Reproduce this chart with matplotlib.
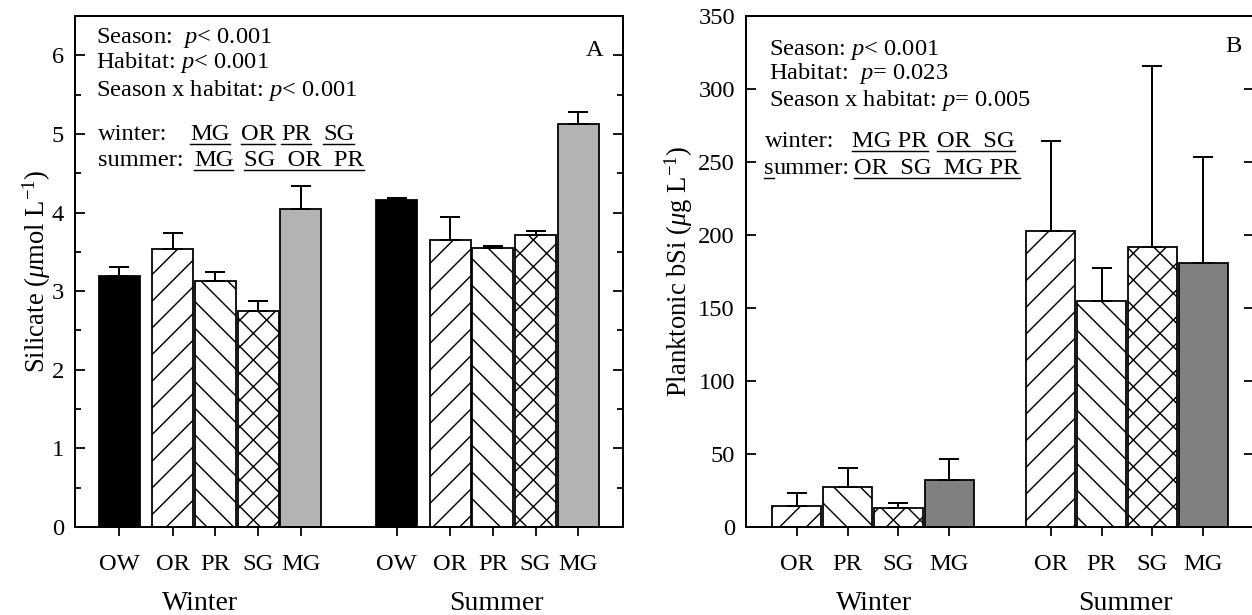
import matplotlib
matplotlib.use("Agg")
import matplotlib.pyplot as plt
import numpy as np
from matplotlib.lines import Line2D
from matplotlib.ticker import MultipleLocator

W, H, DPI = 1252, 615, 80

plt.rcParams['font.family'] = ['Liberation Serif', 'DejaVu Serif']
plt.rcParams['mathtext.fontset'] = 'custom'
plt.rcParams['mathtext.rm'] = 'Liberation Serif'
plt.rcParams['mathtext.it'] = 'Liberation Serif:italic'
plt.rcParams['hatch.linewidth'] = 1.3
plt.rcParams['font.size'] = 22

# silicate (panel A)
habitats_a = ['OW', 'OR', 'PR', 'SG', 'MG']
sil_winter = [3.19, 3.54, 3.13, 2.75, 4.05]
sil_winter_se = [0.12, 0.20, 0.12, 0.13, 0.29]
sil_summer = [4.16, 3.65, 3.55, 3.71, 5.12]
sil_summer_se = [0.03, 0.29, 0.03, 0.05, 0.16]

# planktonic bSi (panel B)
habitats_b = ['OR', 'PR', 'SG', 'MG']
bsi_winter = [14.4, 27.4, 13.3, 32.5]
bsi_winter_se = [9.2, 12.7, 3.2, 13.9]
bsi_summer = [203.0, 154.8, 192.0, 181.1]
bsi_summer_se = [61.5, 22.8, 124.0, 72.2]

seasons = ['Winter', 'Summer']

# bar style per habitat
style = {
    'OW': dict(color='black', hatch=None),
    'OR': dict(color='white', hatch='/'),
    'PR': dict(color='white', hatch='\\'),
    'SG': dict(color='white', hatch='x'),
}


def fx(px):
    return px / W


def fy(py):
    return 1 - py / H


def draw_bars(ax, xs, vals, errs, habs, mg_color):
    for x, v, e, h in zip(xs, vals, errs, habs):
        if h == 'MG':
            fc, hatch = mg_color, None
        else:
            fc, hatch = style[h]['color'], style[h]['hatch']
        ax.bar(x, v, width=0.96, color=fc, edgecolor='black', linewidth=1.6,
               hatch=hatch, zorder=2)
    ax.errorbar(xs, vals, yerr=[np.zeros(len(vals)), errs], fmt='none',
                ecolor='black', elinewidth=1.8, capsize=9, capthick=1.8, zorder=3)


def style_axes(ax):
    for sp in ax.spines.values():
        sp.set_linewidth(1.8)
    ax.tick_params(axis='y', which='both', direction='in', left=True, right=True,
                   labelright=False)
    ax.tick_params(axis='y', which='major', length=9, width=1.6, pad=10)
    ax.tick_params(axis='y', which='minor', length=5, width=1.6)
    ax.tick_params(axis='x', direction='out', length=8, width=1.6, pad=16,
                   top=False)


fig = plt.figure(figsize=(W / DPI, H / DPI), dpi=DPI)

# ---------------- panel A
axA = fig.add_axes([fx(75), fy(527), fx(623) - fx(75), fy(16) - fy(527)])
pos_a = np.array([0, 1.25, 2.25, 3.25, 4.25])
xa_w = pos_a
xa_s = pos_a + 6.5
draw_bars(axA, xa_w, sil_winter, sil_winter_se, habitats_a, '#b3b3b3')
draw_bars(axA, xa_s, sil_summer, sil_summer_se, habitats_a, '#b3b3b3')
axA.set_xlim(-1.04, 11.8)
axA.set_ylim(0, 6.5)
axA.set_yticks(range(7))
axA.yaxis.set_minor_locator(MultipleLocator(0.5))
axA.set_xticks(np.concatenate([xa_w, xa_s]))
axA.set_xticklabels(habitats_a + habitats_a)
style_axes(axA)

# ---------------- panel B
axB = fig.add_axes([fx(746), fy(527), fx(1254) - fx(746), fy(16) - fy(527)])
pos_b = np.arange(4)
xb_w = pos_b
xb_s = pos_b + 5
draw_bars(axB, xb_w, bsi_winter, bsi_winter_se, habitats_b, '#808080')
draw_bars(axB, xb_s, bsi_summer, bsi_summer_se, habitats_b, '#808080')
axB.set_xlim(-1.0, 9.0)
axB.set_ylim(0, 350)
axB.set_yticks(range(0, 351, 50))
axB.set_xticks(np.concatenate([xb_w, xb_s]))
axB.set_xticklabels(habitats_b + habitats_b)
style_axes(axB)
axB.tick_params(axis='y', which='minor', left=False, right=False)

# season labels under the ticks
for xpx, s in zip([200, 496, 874, 1125], seasons * 2):
    fig.text(fx(xpx), fy(603), s, ha='center', va='center', fontsize=25)

# y labels
fig.text(fx(37), fy(271), r'Silicate ($\mu$mol L$^{-1}$)', rotation=90,
         ha='center', va='center', fontsize=24)
fig.text(fx(679), fy(271), r'Planktonic bSi ($\mu$g L$^{-1}$)', rotation=90,
         ha='center', va='center', fontsize=24)

# panel letters
fig.text(fx(595), fy(50), 'A', ha='center', va='center')
fig.text(fx(1233), fy(47), 'B', ha='center', va='center')

# statistics text
stats_a = [r'Season:  $p$< 0.001', r'Habitat: $p$< 0.001',
           r'Season x habitat: $p$< 0.001']
stats_b = [r'Season: $p$< 0.001', r'Habitat:  $p$= 0.023',
           r'Season x habitat: $p$= 0.005']
for s, yb in zip(stats_a, [43, 68, 96]):
    fig.text(fx(96), fy(yb), s, va='baseline')
for s, yb in zip(stats_b, [55, 79, 106]):
    fig.text(fx(769), fy(yb), s, va='baseline')

# homogeneous groups: each (x start px, text) is one underlined group
lines = [
    (98, 140, 'winter:', [(190, 'MG'), (241, 'OR'), (281, 'PR'), (323, 'SG')]),
    (98, 166, 'summer:', [(194, 'MG'), (244, 'SG  OR  PR')]),
    (765, 147, 'winter:', [(852, 'MG PR'), (937, 'OR  SG')]),
    (764, 174, None, [(854, 'OR  SG  MG PR')]),
]

fig.canvas.draw()
renderer = fig.canvas.get_renderer()


def underline(x0, x1, base_px):
    y = fy(base_px + 3.5)
    fig.add_artist(Line2D([x0 / W, x1 / W], [y, y], color='black', lw=1.3,
                          transform=fig.transFigure))


for xl, yb, label, groups in lines:
    if label is None:
        # "summer:" with the first letter underlined
        t_s = fig.text(fx(xl), fy(yb), 's', va='baseline')
        bb = t_s.get_window_extent(renderer)
        fig.text(bb.x1 / W, fy(yb), 'ummer:', va='baseline')
        underline(bb.x0, bb.x1, yb)
    else:
        fig.text(fx(xl), fy(yb), label, va='baseline')
    for xp, tok in groups:
        t = fig.text(fx(xp), fy(yb), tok, va='baseline')
        bb = t.get_window_extent(renderer)
        underline(bb.x0, bb.x1, yb)

fig.savefig('out.png', dpi=DPI)
